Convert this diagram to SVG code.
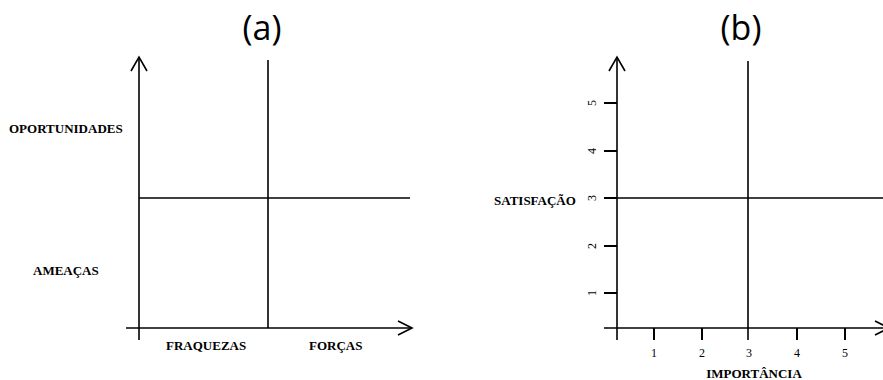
<svg xmlns="http://www.w3.org/2000/svg" width="883" height="380" viewBox="0 0 883 380">
<style>
.ln{stroke:#000;stroke-width:1.6;fill:none}
.tk{stroke:#000;stroke-width:2;fill:none}
.ttl{font-family:"Open Sans","Noto Sans",sans-serif;font-size:34px;fill:#000;text-anchor:middle}
.lb{font-family:"Liberation Serif","Times New Roman",serif;font-size:13px;font-weight:bold;fill:#000}
.num{font-family:"Liberation Serif","Times New Roman",serif;font-size:12px;fill:#000;text-anchor:middle}
</style>
<rect width="883" height="380" fill="#fff"/>
<g id="chart-a">
  <text class="ttl" x="262" y="40">(a)</text>
  <g id="connectors-a">
    <line class="ln" x1="139" y1="57" x2="139" y2="340"/>
    <polyline class="ln" points="131,71 139,57 147,71"/>
    <line class="ln" x1="268" y1="60" x2="268" y2="328"/>
    <line class="ln" x1="139" y1="198" x2="410" y2="198"/>
    <line class="ln" x1="126" y1="328" x2="411" y2="328"/>
    <polyline class="ln" points="398,321 412,328 398,335"/>
  </g>
  <text class="lb" x="9" y="133">OPORTUNIDADES</text>
  <text class="lb" x="33" y="275">AMEAÇAS</text>
  <text class="lb" x="166" y="350">FRAQUEZAS</text>
  <text class="lb" x="309" y="350">FORÇAS</text>
</g>
<g id="chart-b">
  <text class="ttl" x="741" y="40">(b)</text>
  <g id="connectors-b">
    <line class="ln" x1="617" y1="57" x2="617" y2="340"/>
    <polyline class="ln" points="609,71 617,57 625,71"/>
    <line class="ln" x1="748" y1="61" x2="748" y2="340"/>
    <line class="ln" x1="617" y1="198" x2="883" y2="198"/>
    <line class="ln" x1="604" y1="328" x2="888" y2="328"/>
    <polyline class="ln" points="875,321 889,328 875,335"/>
    <g class="tk">
      <line x1="604" y1="103" x2="617" y2="103"/>
      <line x1="604" y1="151" x2="617" y2="151"/>
      <line x1="604" y1="198" x2="617" y2="198"/>
      <line x1="604" y1="246" x2="617" y2="246"/>
      <line x1="604" y1="293" x2="617" y2="293"/>
      <line x1="654" y1="328" x2="654" y2="340"/>
      <line x1="702" y1="328" x2="702" y2="340"/>
      <line x1="797" y1="328" x2="797" y2="340"/>
      <line x1="845" y1="328" x2="845" y2="340"/>
    </g>
  </g>
  <text class="num" transform="translate(596,103) rotate(-90)">5</text>
  <text class="num" transform="translate(596,151) rotate(-90)">4</text>
  <text class="num" transform="translate(596,198) rotate(-90)">3</text>
  <text class="num" transform="translate(596,246) rotate(-90)">2</text>
  <text class="num" transform="translate(596,293) rotate(-90)">1</text>
  <text class="num" x="654" y="357">1</text>
  <text class="num" x="702" y="357">2</text>
  <text class="num" x="749" y="357">3</text>
  <text class="num" x="797" y="357">4</text>
  <text class="num" x="845" y="357">5</text>
  <text class="lb" x="494" y="205">SATISFAÇÃO</text>
  <text class="lb" x="754" y="378" text-anchor="middle">IMPORTÂNCIA</text>
</g>
</svg>
